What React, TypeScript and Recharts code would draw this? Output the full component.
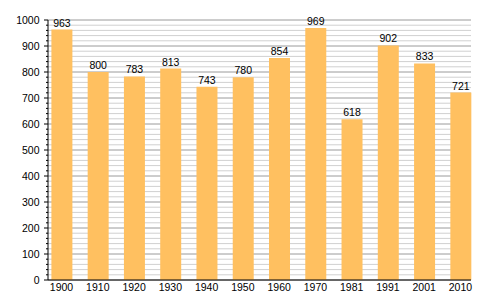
import { Bar, BarChart, CartesianGrid, LabelList, XAxis, YAxis } from "recharts";

const years = ["1900", "1910", "1920", "1930", "1940", "1950", "1960", "1970", "1981", "1991", "2001", "2010"];
const population = [963, 800, 783, 813, 743, 780, 854, 969, 618, 902, 833, 721];
const yTicks = Array.from({ length: 51 }, (_, i) => i * 20);

const data = years.map((year, i) => ({ year, value: population[i] }));

const FONT = '"Liberation Sans", Arial, sans-serif';

function YTick(props: any) {
  const { x, y, payload } = props;
  const major = payload.value % 100 === 0;
  return (
    <g>
      <line x1={x - (major ? 4 : 2)} x2={x} y1={y} y2={y} stroke="#000" />
      {major && (
        <text x={x - 8.5} y={y} dy="0.35em" textAnchor="end" fontSize={10.5} fontFamily={FONT} fill="#000">
          {payload.value}
        </text>
      )}
    </g>
  );
}

function GridLine(props: any) {
  const { x1, x2, y1, y2, index } = props;
  return (
    <line x1={x1} x2={x2} y1={y1} y2={y2} stroke={index % 5 === 0 ? "#9a9a9a" : "#d0d0d0"} strokeWidth={1} />
  );
}

export default function App() {
  return (
    <div style={{ position: "absolute", left: 0, top: 0, background: "#fff" }}>
      <BarChart width={500} height={300} data={data} margin={{ top: 20, right: 29, bottom: 0, left: 0 }} barSize={21}>
        <CartesianGrid vertical={false} horizontal={GridLine} />
        <XAxis
          dataKey="year"
          stroke="#000"
          tickLine={false}
          tickSize={0}
          tickMargin={3.5}
          height={20}
          interval={0}
          padding={{ left: -4.6, right: -7.6 }}
          tick={{ fill: "#000", fontSize: 10.5, fontFamily: FONT }}
        />
        <YAxis
          domain={[0, 1000]}
          ticks={yTicks}
          interval={0}
          width={48}
          stroke="#000"
          tickLine={false}
          tickSize={0}
          tickMargin={0}
          tick={<YTick />}
        />
        <Bar dataKey="value" fill="#ffc060" isAnimationActive={false}>
          <LabelList dataKey="value" position="top" offset={3} fill="#000" fontSize={10.5} fontFamily={FONT} />
        </Bar>
      </BarChart>
    </div>
  );
}
